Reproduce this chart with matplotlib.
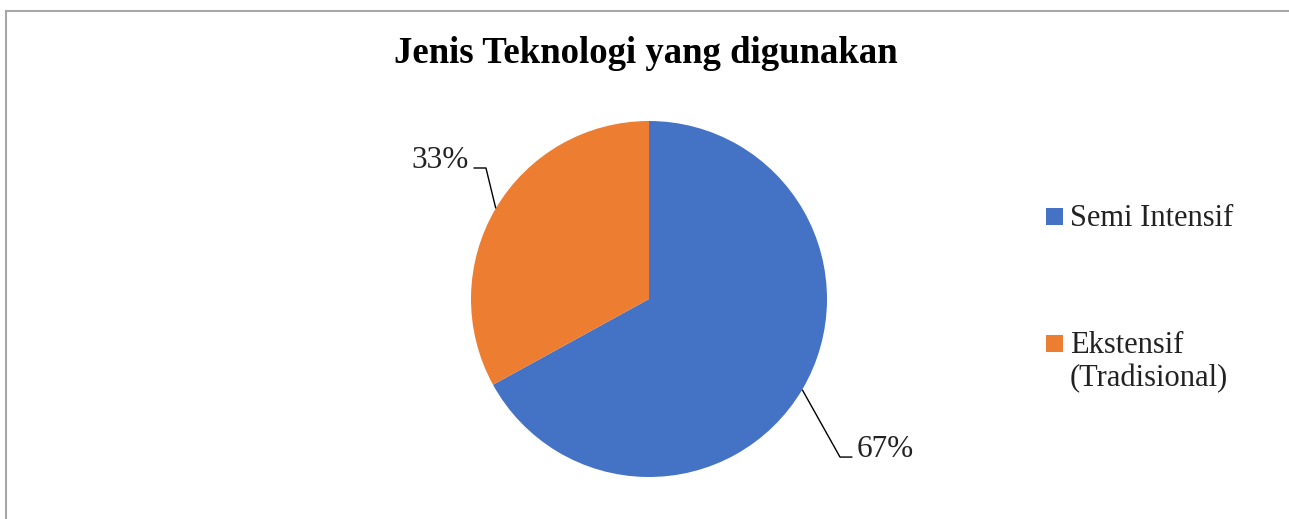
import numpy as np
import matplotlib.pyplot as plt
from matplotlib.patches import Rectangle

# data
categories = ["Semi Intensif", "Ekstensif\n(Tradisional)"]
values = [67, 33]
colors = ["#4472C4", "#ED7D31"]
title = "Jenis Teknologi yang digunakan"

plt.rcParams["font.family"] = ["Liberation Serif", "DejaVu Serif"]

W, H = 1289, 519
fig = plt.figure(figsize=(W / 100, H / 100), dpi=100)

# frame (only left and top edge visible in the crop)
fig.patches.append(Rectangle((6 / W, -0.1), 1.2, 1 - 11 / H + 0.1,
                             transform=fig.transFigure, fill=False,
                             edgecolor="#A6A6A6", linewidth=1.5))

# pie axes: center (649, 299), radius 178 px
r = 178
cx, cy = 649, H - 299
ax = fig.add_axes([(cx - r) / W, (cy - r) / H, 2 * r / W, 2 * r / H])
wedges, _ = ax.pie(values, colors=colors, startangle=90, counterclock=False,
                   radius=1.0, wedgeprops=dict(linewidth=0))
ax.set_xlim(-1, 1)
ax.set_ylim(-1, 1)
ax.set_aspect("equal")
ax.axis("off")

# data labels with leader lines
elbows = [(1.073, -0.888), (-0.916, 0.736)]
for w, v, (ex, ey) in zip(wedges, values, elbows):
    mid = np.deg2rad((w.theta1 + w.theta2) / 2)
    px, py = np.cos(mid), np.sin(mid)
    side = 1 if ex > 0 else -1
    endx = ex + side * 0.07
    ax.plot([px, ex, endx], [py, ey, ey], color="black", lw=1.0,
            clip_on=False, solid_capstyle="butt")
    ax.text(endx + side * 0.025, ey, f"{v}%", fontsize=22.5,
            ha="left" if side > 0 else "right", va="baseline", color="#222222")

fig.text(646 / W, 1 - 63 / H, title, ha="center", va="baseline",
         fontsize=26.5, fontweight="bold", color="black")

# legend: square marker + label lines (baselines in px from top)
leg_baselines = [226, 353]
line_gap = 33
sq = 17
for lab, col, yb in zip(categories, colors, leg_baselines):
    fig.patches.append(Rectangle((1046 / W, 1 - (yb - 1) / H), sq / W, sq / H,
                                 transform=fig.transFigure, facecolor=col,
                                 edgecolor="none"))
    for i, line in enumerate(lab.split("\n")):
        fig.text(1070 / W, 1 - (yb + i * line_gap) / H, line, ha="left",
                 va="baseline", fontsize=22, color="#222222")

fig.savefig("out.png", dpi=100, facecolor="white")
